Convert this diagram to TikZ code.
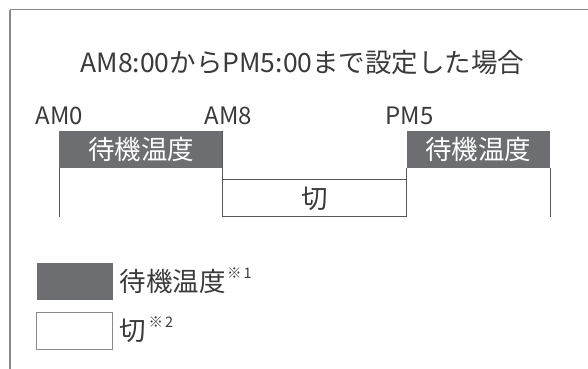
\documentclass[tikz,border=0pt]{standalone}
\usepackage{fontspec}
\setmainfont{Noto Sans CJK JP}
\definecolor{blockgray}{HTML}{6D6E71}
\definecolor{linegray}{HTML}{555555}
\definecolor{framegray}{HTML}{8A8A8A}
\definecolor{textgray}{HTML}{3A3A3A}
\begin{document}
\begin{tikzpicture}[x=1pt,y=-1pt,
  graybox/.style={fill=blockgray,draw=none,inner sep=0,text=white,font=\fontsize{26.5}{30}\selectfont},
  timelab/.style={anchor=west,inner sep=0,text=textgray,font=\fontsize{24}{28}\selectfont},
  txt/.style={anchor=west,inner sep=0,text=textgray,font=\fontsize{26.5}{30}\selectfont},
  note/.style={anchor=west,inner sep=0,text=textgray,font=\fontsize{14.5}{16}\selectfont},
  tline/.style={draw=linegray,line width=1.1pt}]
\useasboundingbox (0,0) rectangle (588,368);
\draw[framegray,line width=1.4pt] (10,9.5) -- (600,9.5);
\draw[framegray,line width=1.4pt] (10,9.5) -- (10,380);
% title
\node[inner sep=0,text=textgray,font=\fontsize{26.5}{30}\selectfont] (title) at (302.5,62) {AM8:00からPM5:00まで設定した場合};
% time labels
\node[timelab] (am0) at (35.5,116) {AM0};
\node[timelab] (am8) at (204.5,116) {AM8};
\node[timelab] (pm5) at (385.5,116) {PM5};
% gray blocks
\node[graybox,minimum width=163.4pt,minimum height=37pt] (b1) at (141,149.2) {待機温度};
\node[graybox,minimum width=143.5pt,minimum height=37pt] (b2) at (478.25,149.2) {待機温度};
% off box
\coordinate (offtl) at (222.7,179.3);
\coordinate (offbr) at (406.5,216.7);
\node[inner sep=0,text=textgray,font=\fontsize{26.5}{30}\selectfont] (off) at (314.6,199) {切};
\draw[tline] (b1.north east) -- (b1.north east |- offbr) -- (b2.south west |- offbr) -- (b2.south west);
\draw[tline] (b1.north east |- offtl) -- (b2.south west |- offtl);
\draw[tline] (b1.south west) -- (b1.south west |- offbr);
\draw[tline] (b2.south east) -- (b2.south east |- offbr);
% legend
\node[fill=blockgray,draw=none,inner sep=0,minimum width=75.8pt,minimum height=37pt] (lg1) at (74.6,281.5) {};
\node[fill=white,draw=framegray,line width=1.2pt,inner sep=0,minimum width=75.8pt,minimum height=37.5pt] (lg2) at (74.6,331) {};
\node[txt] (l1) at (119.5,281.5) {待機温度};
\node[note] (n1) at (l1.east) [anchor=west,yshift=8pt,xshift=1pt] {※\kern2pt 1};
\node[txt] (l2) at (119.5,330.5) {切};
\node[note] (n2) at (l2.east) [anchor=west,yshift=8pt,xshift=2pt] {※\kern2pt 2};
\end{tikzpicture}
\end{document}
